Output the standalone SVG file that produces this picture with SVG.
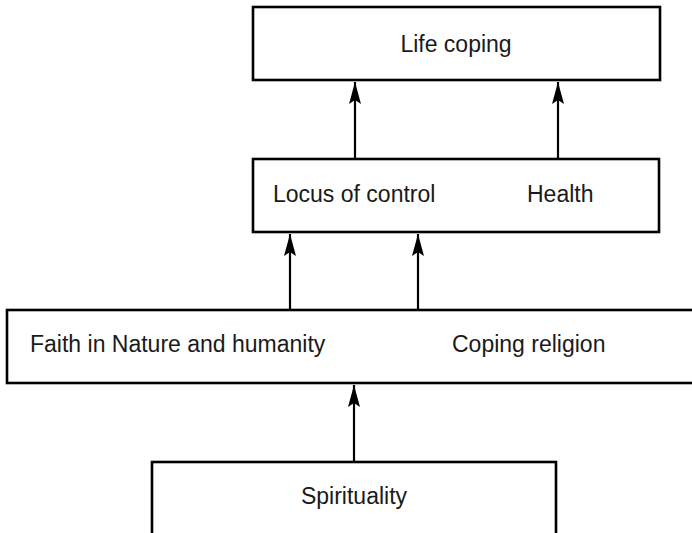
<svg xmlns="http://www.w3.org/2000/svg" width="692" height="533" viewBox="0 0 692 533">
<style>
.box{fill:#fff;stroke:#000;stroke-width:2.6}
.lbl{font-family:"Liberation Sans",Arial,sans-serif;font-size:23px;fill:#1a1a1a}
.edge{stroke:#000;stroke-width:2.2;fill:none}
</style>
<defs>
<marker id="ah" viewBox="-23 -7 24 14" refX="0" refY="0" markerWidth="24" markerHeight="14" markerUnits="userSpaceOnUse" orient="auto">
<path d="M0,0 L-22,-6 L-18,0 L-22,6 Z" fill="#000"/>
</marker>
</defs>
<rect width="692" height="533" fill="#fff"/>
<g id="life-coping">
<rect class="box" x="253" y="7" width="407" height="73"/>
<text class="lbl" x="456" y="52" text-anchor="middle">Life coping</text>
</g>
<g id="locus-health">
<rect class="box" x="253" y="159" width="406" height="73"/>
<text class="lbl" x="273" y="202">Locus of control</text>
<text class="lbl" x="527" y="202">Health</text>
</g>
<g id="faith-coping">
<rect class="box" x="7" y="310" width="690" height="73"/>
<text class="lbl" x="30" y="352">Faith in Nature and humanity</text>
<text class="lbl" x="452" y="352">Coping religion</text>
</g>
<g id="spirituality">
<rect class="box" x="152" y="462" width="404" height="80"/>
<text class="lbl" x="354" y="504" text-anchor="middle">Spirituality</text>
</g>
<g id="connectors">
<line class="edge" x1="355" y1="159" x2="355" y2="82" marker-end="url(#ah)"/>
<line class="edge" x1="558" y1="159" x2="558" y2="82" marker-end="url(#ah)"/>
<line class="edge" x1="290" y1="310" x2="290" y2="234" marker-end="url(#ah)"/>
<line class="edge" x1="418" y1="310" x2="418" y2="234" marker-end="url(#ah)"/>
<line class="edge" x1="354" y1="462" x2="354" y2="385" marker-end="url(#ah)"/>
</g>
</svg>
